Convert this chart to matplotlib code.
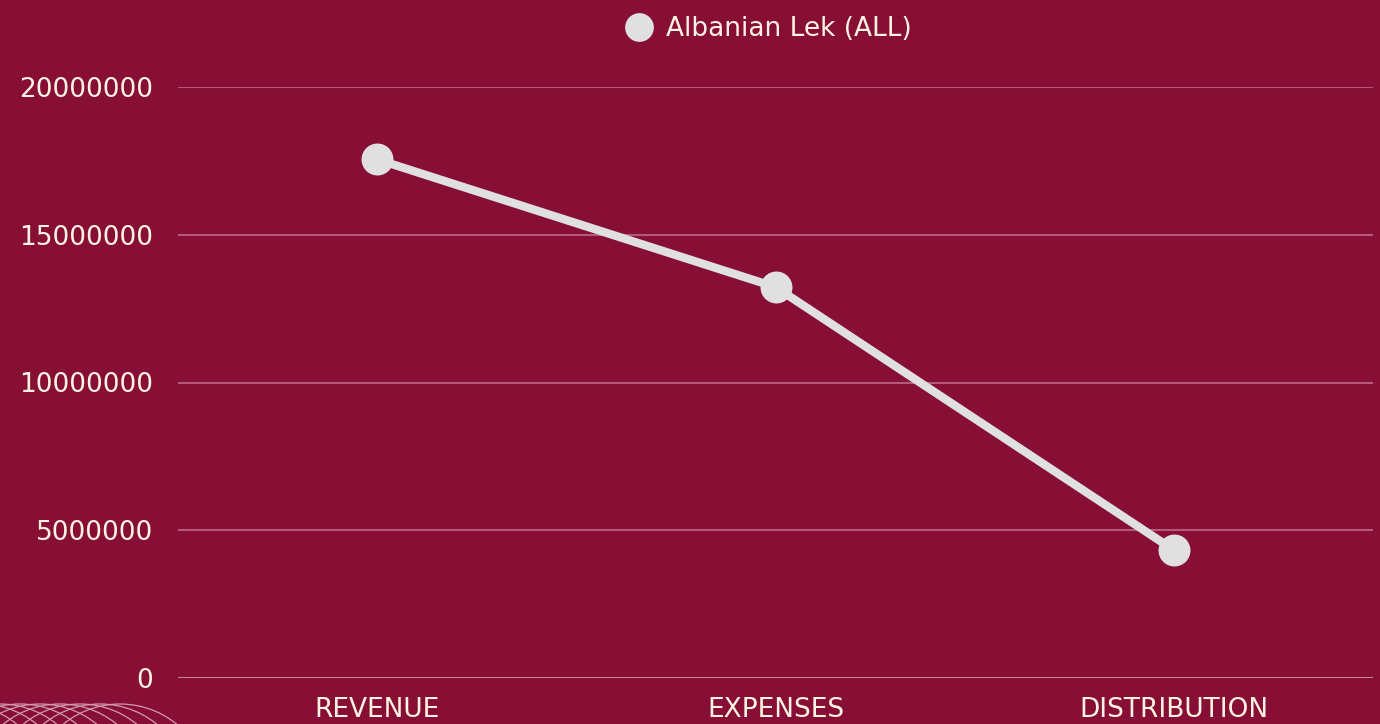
import matplotlib
matplotlib.use('Agg')

import matplotlib.pyplot as plt
from matplotlib.patches import Ellipse

# Data
categories = ["REVENUE", "EXPENSES", "DISTRIBUTION"]
values = [17550000, 13230000, 4330000]
series_name = "Albanian Lek (ALL)"
y_ticks = [0, 5000000, 10000000, 15000000, 20000000]

bg = "#870F35"
text_col = "#FFF3E3"
line_col = "#E0E0E0"
grid_col = "#B25A77"

plt.rcParams['font.family'] = ['DejaVu Sans']

W, H = 1380, 724
fig = plt.figure(figsize=(W / 100, H / 100), dpi=100, facecolor=bg)
ax = fig.add_axes([178 / W, 1 - 678 / H, (1373 - 178) / W, (678 - 87) / H])
ax.set_facecolor(bg)

x = range(len(categories))
ax.plot(x, values, color=line_col, linewidth=6, marker='o', markersize=23,
        markeredgewidth=0, label=series_name, zorder=3)

ax.set_xlim(-0.5, len(categories) - 0.5)
ax.set_ylim(0, 20000000)
ax.set_yticks(y_ticks)
ax.set_yticklabels([str(v) for v in y_ticks])
ax.set_xticks(list(x))
ax.set_xticklabels(categories)

ax.grid(axis='y', color=grid_col, linewidth=1.5)
ax.set_axisbelow(True)
for s in ax.spines.values():
    s.set_visible(False)
ax.axhline(0, color="#C98A9E", linewidth=2, zorder=2)
ax.tick_params(axis='both', length=0, colors=text_col, labelsize=19)
ax.tick_params(axis='y', pad=18)
ax.tick_params(axis='x', pad=14)

leg = ax.legend(loc='lower center', bbox_to_anchor=(0.495, 1.0), frameon=False,
                fontsize=19, handlelength=0.9, handletextpad=0.6, markerscale=0.9,
                borderaxespad=1.3)
for t in leg.get_texts():
    t.set_color(text_col)
for h in leg.legend_handles:
    h.set_linestyle('None')

# decorative arcs in the bottom-left corner
for cx in range(-40, 130, 20):
    arc = Ellipse((cx / W, -70 / H), 180 / W, 180 / H, transform=fig.transFigure,
                  fill=False, edgecolor="#D29AAD", linewidth=0.9)
    fig.patches.append(arc)

fig.savefig("out.png", dpi=100, facecolor=bg)
plt.close(fig)
